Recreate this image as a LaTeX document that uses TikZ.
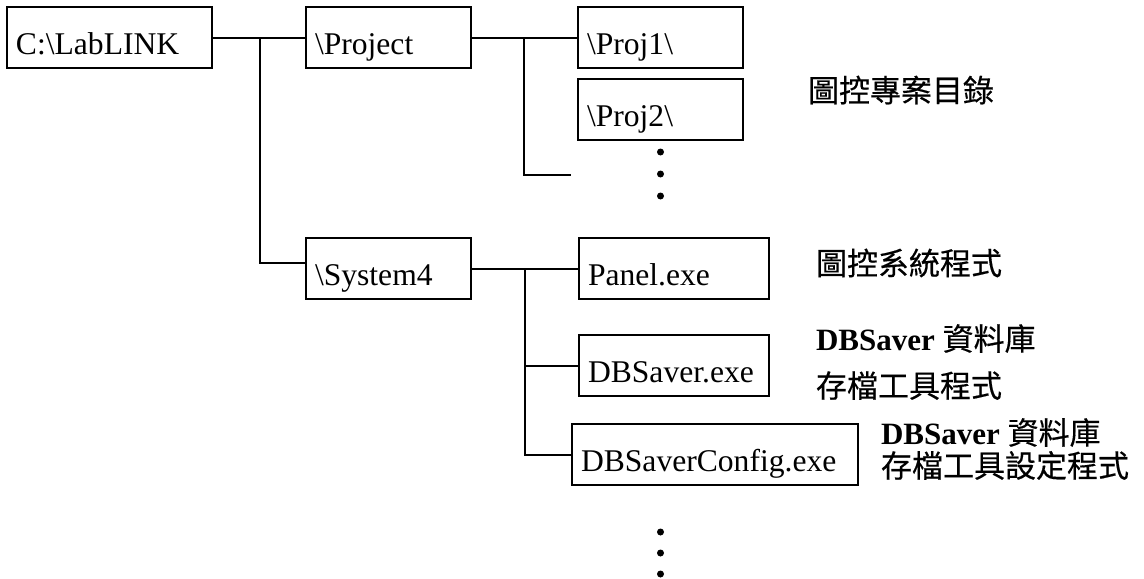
\documentclass[tikz,border=0pt]{standalone}
\usepackage{fontspec}
\setmainfont{Liberation Serif}
\newfontfamily\cjk[FakeBold=0.4]{Noto Sans CJK TC}
\usetikzlibrary{positioning}

\begin{document}
\begin{tikzpicture}[x=0.5pt, y=-0.5pt, line width=1pt,
    folder/.style={draw, line width=1pt, align=left, inner xsep=4.5pt, inner ysep=0pt, outer sep=0pt,
                   text height=19pt, text depth=2pt, minimum height=30.5pt,
                   font=\fontsize{15.8}{18}\selectfont},
    note/.style={align=left, inner sep=0pt, font=\fontsize{15.5}{23.5}\selectfont}]
  \useasboundingbox (0,0) rectangle (1144,578);

  % directories
  \node[folder, anchor=north west, text width=93.5pt] (lab) at (7,7) {C:\textbackslash LabLINK};
  \node[folder, text width=73.5pt] (proj) [right=47pt of lab]   {\textbackslash Project};
  \node[folder, text width=73.5pt] (p1)   [right=53.5pt of proj] {\textbackslash Proj1\textbackslash};
  \node[folder, text width=73.5pt] (p2)   [below=5.5pt of p1]    {\textbackslash Proj2\textbackslash};
  \node[folder, text width=73.5pt] (sys)  [below=85pt of proj]   {\textbackslash System4};
  \node[folder, text width=86pt]   (panel) [right=54pt of sys]   {Panel.exe};
  \node[folder, text width=86pt]   (dbs)  [below=18pt of panel]  {DBSaver.exe};
  \node[folder, text width=134pt]  (cfg)  [below right=14pt and -3.5pt of dbs.south west] {DBSaverConfig.exe};

  % notes
  \node[note] (nproj)  [right=32pt of p2, yshift=9.75pt]    {\cjk 圖控專案目錄};
  \node[note] (npanel) [right=23pt of panel, yshift=2.75pt] {\cjk 圖控系統程式};
  \node[note] (ndbs)   [right=23pt of dbs, yshift=1.75pt]   {\textbf{DBSaver} {\cjk 資料庫}\\{\cjk 存檔工具程式}};
  \node[note, font=\fontsize{15.5}{16.5}\selectfont] (ncfg) [right=11pt of cfg, yshift=2.75pt]
       {\textbf{DBSaver} {\cjk 資料庫}\\{\cjk 存檔工具設定程式}};

  % tree lines
  \coordinate[right=24pt of lab.east] (j1);
  \coordinate[right=26.5pt of proj.east] (j2);
  \coordinate[right=27pt of sys.east] (j3);
  \coordinate (pend) at ([xshift=-3.5pt, yshift=-17.5pt]p2.south west);
  \draw (lab) -- (proj);
  \draw (j1) |- ([yshift=3pt]sys.west);
  \draw (proj) -- (p1);
  \draw (j2) |- (pend);
  \draw (sys) -- (panel);
  \draw (j3) |- (cfg.west);
  \draw (j3 |- dbs.west) -- (dbs.west);

  % more entries
  \foreach \k in {0,1,2} {
    \fill ([yshift=-6pt-\k*11pt]p2.south) circle (1.75pt);
    \fill ([yshift=-23.5pt-\k*10.5pt]p2.south |- cfg.south) circle (1.75pt);
  }
\end{tikzpicture}
\end{document}
